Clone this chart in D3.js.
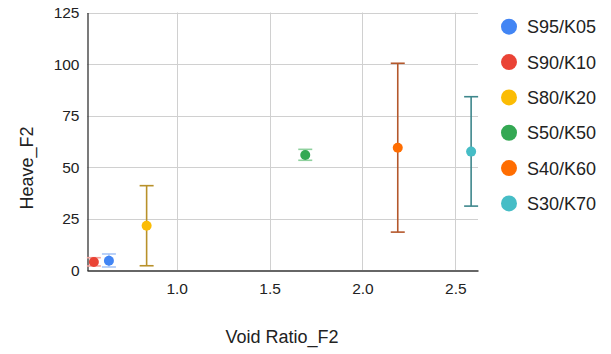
<!DOCTYPE html>
<html lang="en">
<head>
  <meta charset="UTF-8">
  <title>Heave vs Void Ratio</title>
  <script src="https://d3js.org/d3.v7.min.js"></script>
  <style>
    body { margin: 0; background: #fff; }
    text { font-family: "Liberation Sans", Arial, sans-serif; fill: #222; }
  </style>
</head>
<body>
  <script>
    // data
    var series = ["S95/K05", "S90/K10", "S80/K20", "S50/K50", "S40/K60", "S30/K70"];
    var voidRatio = [0.635, 0.554, 0.838, 1.692, 2.19, 2.585];
    var heave = [4.7, 4.1, 21.7, 56.0, 59.5, 57.6];
    var heaveLow = [1.7, 2.2, 2.3, 53.4, 18.6, 31.2];
    var heaveHigh = [8.0, 6.2, 41.1, 58.7, 100.4, 84.2];
    var xTicks = [1.0, 1.5, 2.0, 2.5];
    var yTicks = [0, 25, 50, 75, 100, 125];

    var pointColors = ["#4285f4", "#ea4335", "#fbbc04", "#34a853", "#ff6d01", "#46bdc6"];
    var barColors = ["#a9c6f7", "#f2a39c", "#b8912a", "#8fd19e", "#b4582c", "#3e878c"];

    var width = 611, height = 354;
    var svg = d3.select("body").append("svg")
      .attr("width", width)
      .attr("height", height);

    var x = d3.scaleLinear().domain([0.517, 2.622]).range([87, 478]);
    var y = d3.scaleLinear().domain([0, 125]).range([270.5, 12.5]);

    // grid
    svg.append("g").selectAll("line.h")
      .data(yTicks.filter(d => d > 0))
      .enter().append("line")
      .attr("x1", 87).attr("x2", 478)
      .attr("y1", d => Math.round(y(d)) + 0.5).attr("y2", d => Math.round(y(d)) + 0.5)
      .style("stroke", "#d0d0d0");

    svg.append("g").selectAll("line.v")
      .data(xTicks)
      .enter().append("line")
      .attr("x1", d => Math.round(x(d)) + 0.5).attr("x2", d => Math.round(x(d)) + 0.5)
      .attr("y1", 12.5).attr("y2", 270)
      .style("stroke", "#d0d0d0");

    // axes
    var yAxis = svg.append("g")
      .attr("transform", "translate(87.5,0)")
      .call(d3.axisLeft(y).tickValues(yTicks).tickSize(0).tickPadding(8));
    yAxis.select(".domain").style("stroke", "#333").style("stroke-width", 1.3);
    yAxis.selectAll("text").style("font-size", "15.5px").attr("fill", "#222");

    var xAxis = svg.append("g")
      .attr("transform", "translate(0,270.5)")
      .call(d3.axisBottom(x).tickValues(xTicks).tickFormat(d3.format(".1f")).tickSize(0).tickPadding(12));
    xAxis.select(".domain").style("stroke", "#333").style("stroke-width", 1.3);
    xAxis.selectAll("text").style("font-size", "15.5px").attr("fill", "#222");

    // titles
    svg.append("text")
      .attr("x", 282).attr("y", 343)
      .attr("text-anchor", "middle")
      .style("font-size", "18px")
      .text("Void Ratio_F2");

    svg.append("text")
      .attr("transform", "translate(33,168) rotate(-90)")
      .attr("text-anchor", "middle")
      .style("font-size", "18px")
      .text("Heave_F2");

    // error bars
    var idx = d3.range(series.length);
    var bars = svg.append("g").selectAll("g")
      .data(idx)
      .enter().append("g")
      .style("stroke", i => barColors[i])
      .style("stroke-width", 1.6);

    bars.append("line")
      .attr("x1", i => x(voidRatio[i])).attr("x2", i => x(voidRatio[i]))
      .attr("y1", i => y(heaveLow[i])).attr("y2", i => y(heaveHigh[i]));
    bars.append("line")
      .attr("x1", i => x(voidRatio[i]) - 7).attr("x2", i => x(voidRatio[i]) + 7)
      .attr("y1", i => y(heaveLow[i])).attr("y2", i => y(heaveLow[i]));
    bars.append("line")
      .attr("x1", i => x(voidRatio[i]) - 7).attr("x2", i => x(voidRatio[i]) + 7)
      .attr("y1", i => y(heaveHigh[i])).attr("y2", i => y(heaveHigh[i]));

    // points
    svg.append("g").selectAll("circle")
      .data(idx)
      .enter().append("circle")
      .attr("cx", i => x(voidRatio[i]))
      .attr("cy", i => y(heave[i]))
      .attr("r", 5)
      .style("fill", i => pointColors[i]);

    // legend
    var legend = svg.append("g").selectAll("g")
      .data(idx)
      .enter().append("g")
      .attr("transform", i => "translate(509," + (26.7 + i * 35.35) + ")");
    legend.append("circle")
      .attr("r", 8)
      .style("fill", i => pointColors[i]);
    legend.append("text")
      .attr("x", 18).attr("y", 6.5)
      .style("font-size", "18px")
      .text(i => series[i]);
  </script>
</body>
</html>
